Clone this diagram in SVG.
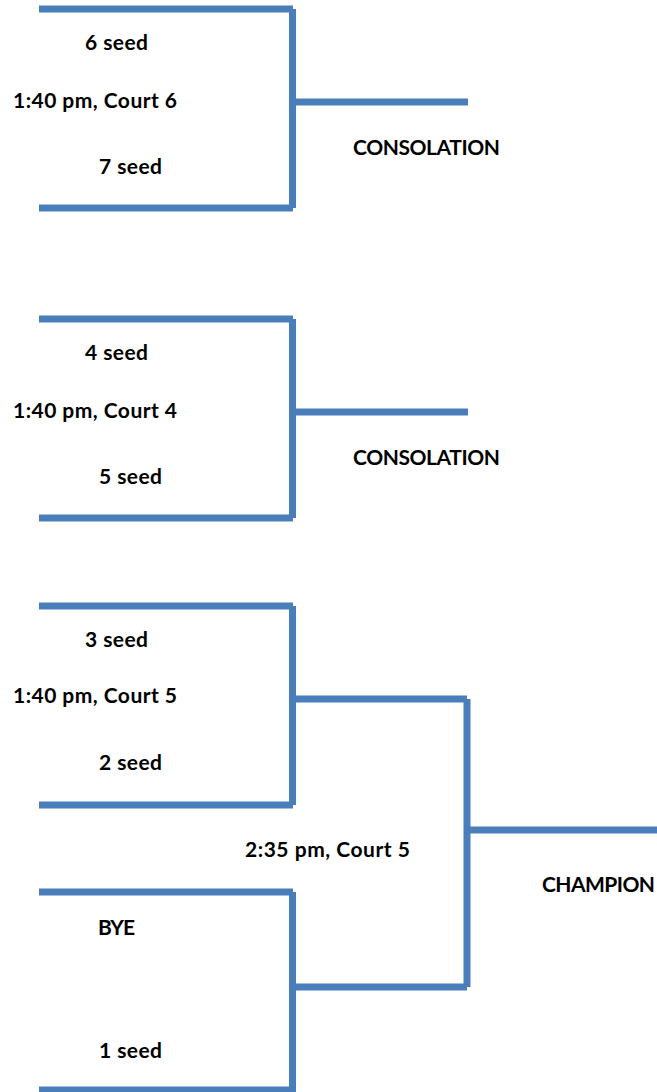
<svg xmlns="http://www.w3.org/2000/svg" width="657" height="1092" viewBox="0 0 657 1092">
<style>
.ln{stroke:#4A7EBB;stroke-width:7;fill:none;stroke-linecap:butt}
.t{font-family:Lato,"Open Sans",sans-serif;font-weight:bold;font-size:21px;fill:#000}
</style>
<rect width="657" height="1092" fill="#fff"/>
<g id="connectors">
<path class="ln" d="M39 9H293M292.5 9V208M39 208H293M292.5 102H468"/>
<path class="ln" d="M39 319H293M292.5 319V518M39 518H293M292.5 412H468"/>
<path class="ln" d="M39 606H293M292.5 606V805M39 805H293M292.5 699H467"/>
<path class="ln" d="M39 892H293M292.5 892V1092M39 1090H293M292.5 987H467"/>
<path class="ln" d="M467 699V987M467 830H657"/>
</g>
<g id="m1">
<text class="t" x="85" y="50" textLength="63">6 seed</text>
<text class="t" x="13" y="108" textLength="164">1:40 pm, Court 6</text>
<text class="t" x="99" y="174" textLength="63">7 seed</text>
</g>
<g id="c1"><text class="t" x="353" y="155" textLength="147">CONSOLATION</text></g>
<g id="m2">
<text class="t" x="85" y="360" textLength="63">4 seed</text>
<text class="t" x="13" y="418" textLength="164">1:40 pm, Court 4</text>
<text class="t" x="99" y="484" textLength="63">5 seed</text>
</g>
<g id="c2"><text class="t" x="353" y="465" textLength="147">CONSOLATION</text></g>
<g id="m3">
<text class="t" x="85" y="647" textLength="63">3 seed</text>
<text class="t" x="13" y="703" textLength="164">1:40 pm, Court 5</text>
<text class="t" x="99" y="770" textLength="63">2 seed</text>
</g>
<g id="m4">
<text class="t" x="98" y="935" textLength="37">BYE</text>
<text class="t" x="99" y="1058" textLength="63">1 seed</text>
</g>
<g id="final"><text class="t" x="245" y="857" textLength="165">2:35 pm, Court 5</text></g>
<g id="champ"><text class="t" x="542" y="892" textLength="113">CHAMPION</text></g>
</svg>
